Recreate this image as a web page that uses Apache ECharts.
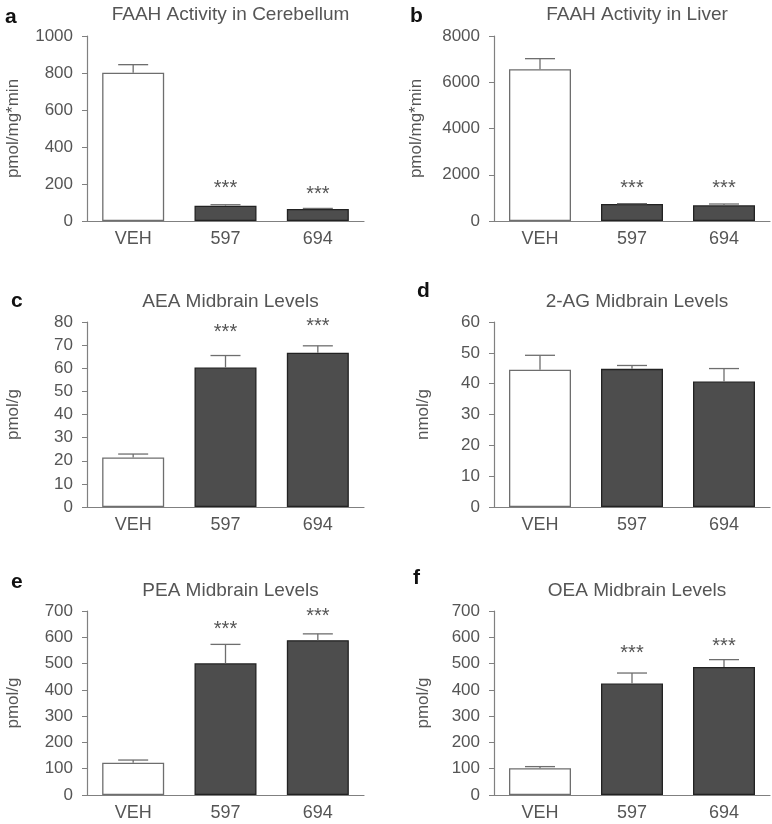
<!DOCTYPE html>
<html>
<head>
<meta charset="utf-8">
<script src="https://cdn.jsdelivr.net/npm/echarts@6/dist/echarts.min.js"></script>
<style>
html,body{margin:0;padding:0;background:#fff;}
#chart{width:772px;height:824px;}
</style>
</head>
<body>
<div id="chart"></div>
<script>
// ---- data ----
const categories = ['VEH', '597', '694'];
const panelLetters = ['a', 'b', 'c', 'd', 'e', 'f'];
const panelTitles = ['FAAH Activity in Cerebellum', 'FAAH Activity in Liver', 'AEA Midbrain Levels',
  '2-AG Midbrain Levels', 'PEA Midbrain Levels', 'OEA Midbrain Levels'];
const yAxisNames = ['pmol/mg*min', 'pmol/mg*min', 'pmol/g', 'nmol/g', 'pmol/g', 'pmol/g'];
const yMax = [1000, 8000, 80, 60, 700, 700];
const yStep = [200, 2000, 10, 10, 100, 100];

const meanA = [802, 83, 65];      const semA = [43, 5, 3];
const meanB = [6560, 735, 680];   const semB = [460, 15, 55];
const meanC = [21.4, 60.3, 66.7]; const semC = [1.5, 5.2, 3.0];
const meanD = [44.5, 44.8, 40.7]; const semD = [4.7, 1.1, 4.2];
const meanE = [123, 501, 589];    const semE = [10, 72, 24];
const meanF = [102, 424, 487];    const semF = [6, 40, 28];

// "***" marks: y position of the marker (null = none)
const starsA = [null, 200, 164];
const starsB = [null, 1600, 1600];
const starsC = [null, 77.4, 79.8];
const starsD = [null, null, null];
const starsE = [null, 645, 694];
const starsF = [null, 554, 579];

const means = [meanA, meanB, meanC, meanD, meanE, meanF];
const sems = [semA, semB, semC, semD, semE, semF];
const stars = [starsA, starsB, starsC, starsD, starsE, starsF];

// ---- layout / style ----
const FONT = 'Liberation Sans, Arial, sans-serif';
const TXT = '#555';
const AX = '#808080';
const gridPos = [
  {left: 87, top: 36, width: 277, height: 185},
  {left: 494, top: 36, width: 276, height: 185},
  {left: 87, top: 322, width: 277, height: 185},
  {left: 494, top: 322, width: 276, height: 185},
  {left: 87, top: 611, width: 277, height: 184},
  {left: 494, top: 611, width: 276, height: 184}
];
const nameGaps = [65, 69, 65, 62, 65, 62];
const letterPos = [[0, 2], [405, 1], [6, 286], [412, 276], [6, 567], [408, 563]];
const fillStyles = [
  {color: '#ffffff', borderColor: '#6e6e6e', borderWidth: 1.3},
  {color: '#4d4d4d', borderColor: '#222', borderWidth: 1.3},
  {color: '#4d4d4d', borderColor: '#222', borderWidth: 1.3}
];

const grids = [], xAxes = [], yAxes = [], series = [], titles = [];
for (let i = 0; i < 6; i++) {
  const g = gridPos[i];
  grids.push(Object.assign({containLabel: false}, g));
  xAxes.push({
    type: 'category', gridIndex: i, data: categories,
    axisLine: {lineStyle: {color: AX, width: 1.2}},
    axisTick: {alignWithLabel: true, length: 4, lineStyle: {color: AX}},
    axisLabel: {color: TXT, fontSize: 18, fontFamily: FONT, margin: 9}
  });
  yAxes.push({
    type: 'value', gridIndex: i, min: 0, max: yMax[i], interval: yStep[i],
    name: yAxisNames[i], nameLocation: 'middle', nameGap: nameGaps[i],
    nameTextStyle: {color: TXT, fontSize: 17, fontFamily: FONT},
    axisLine: {show: true, lineStyle: {color: AX, width: 1.2}},
    axisTick: {show: true, length: 5, lineStyle: {color: AX}},
    splitLine: {show: false},
    axisLabel: {color: TXT, fontSize: 17, fontFamily: FONT, margin: 14,
      formatter: v => String(v)}
  });
  titles.push({
    text: panelTitles[i], left: g.left + g.width / 2, top: g.top - (i < 2 ? 36 : 35),
    textAlign: 'center',
    textStyle: {color: TXT, fontSize: 19, fontWeight: 'normal', fontFamily: FONT}
  });
  titles.push({
    text: panelLetters[i], left: letterPos[i][0], top: letterPos[i][1],
    textStyle: {color: '#111', fontSize: 21, fontWeight: 'bold', fontFamily: FONT}
  });
  series.push({
    type: 'bar', xAxisIndex: i, yAxisIndex: i, barWidth: 62,
    data: means[i].map((v, k) => ({value: v, itemStyle: fillStyles[k]})),
    z: 2
  });
  series.push({
    type: 'custom', xAxisIndex: i, yAxisIndex: i, z: 3,
    data: means[i].map((v, k) => [k, v, sems[i][k]]),
    renderItem: function (params, api) {
      const x = api.value(0), m = api.value(1), s = api.value(2);
      const p0 = api.coord([x, m]);
      const p1 = api.coord([x, m + s]);
      const hw = 15;
      const st = {stroke: '#6e6e6e', lineWidth: 1.3};
      return {type: 'group', children: [
        {type: 'line', shape: {x1: p0[0], y1: p0[1], x2: p1[0], y2: p1[1]}, style: st},
        {type: 'line', shape: {x1: p1[0] - hw, y1: p1[1], x2: p1[0] + hw, y2: p1[1]}, style: st}
      ]};
    }
  });
  series.push({
    type: 'custom', xAxisIndex: i, yAxisIndex: i, z: 4,
    data: stars[i].map((v, k) => [k, v]).filter(d => d[1] !== null),
    renderItem: function (params, api) {
      const p = api.coord([api.value(0), api.value(1)]);
      return {type: 'text', x: p[0], y: p[1] + 4, style: {
        text: '***', fill: '#555', font: '20px ' + FONT, textAlign: 'center', textVerticalAlign: 'middle'}};
    }
  });
}

const chart = echarts.init(document.getElementById('chart'), null, {renderer: 'canvas'});
chart.setOption({
  animation: false,
  backgroundColor: '#fff',
  title: titles,
  grid: grids,
  xAxis: xAxes,
  yAxis: yAxes,
  series: series
});
</script>
</body>
</html>
